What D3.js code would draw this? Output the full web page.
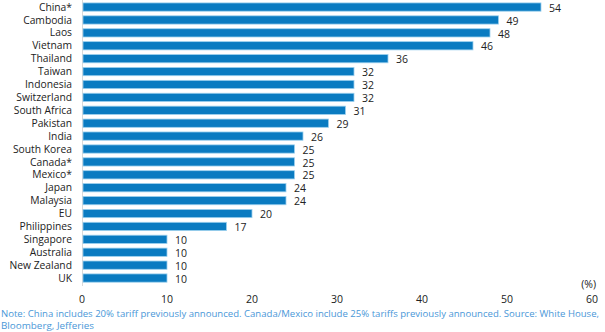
<!DOCTYPE html>
<html>
<head>
<meta charset="utf-8">
<script src="https://cdn.jsdelivr.net/npm/d3@7"></script>
<style>
body { margin: 0; background: #fff; }
svg text { font-family: "Open Sans", "Noto Sans", sans-serif; }
</style>
</head>
<body>
<svg id="chart"></svg>
<script>
var countries = ["China*", "Cambodia", "Laos", "Vietnam", "Thailand", "Taiwan", "Indonesia",
    "Switzerland", "South Africa", "Pakistan", "India", "South Korea", "Canada*", "Mexico*",
    "Japan", "Malaysia", "EU", "Philippines", "Singapore", "Australia", "New Zealand", "UK"];
var tariffs = [54, 49, 48, 46, 36, 32, 32, 32, 31, 29, 26, 25, 25, 25, 24, 24, 20, 17, 10, 10, 10, 10];
var xTicks = [0, 10, 20, 30, 40, 50, 60];
var note = ["Note: China includes 20% tariff previously announced. Canada/Mexico include 25% tariffs previously announced. Source: White House,",
    "Bloomberg, Jefferies"];

var width = 605, height = 332;
var data = countries.map((c, i) => ({name: c, value: tariffs[i]}));

var svg = d3.select("#chart")
    .attr("width", width)
    .attr("height", height);

var x = d3.scaleLinear().domain([0, 60]).range([82, 592]);
var y = d3.scaleBand().domain(countries).range([0.6, 284.5]).paddingInner(0.36).paddingOuter(0.18);

// axis line
svg.append("line")
    .attr("x1", x(0) + 0.5).attr("x2", x(0) + 0.5)
    .attr("y1", 0).attr("y2", 286)
    .attr("stroke", "#d9d9d9");

svg.selectAll("rect.bar")
    .data(data)
    .enter()
    .append("rect")
        .attr("class", "bar")
        .attr("x", x(0) + 1)
        .attr("y", d => y(d.name))
        .attr("width", d => x(d.value) - x(0) - 1)
        .attr("height", y.bandwidth())
        .attr("fill", "#0a7bc1")
        .attr("stroke", "#9cd0ee")
        .attr("stroke-width", 0.8);

svg.selectAll("text.val")
    .data(data)
    .enter()
    .append("text")
        .attr("class", "val")
        .attr("x", d => x(d.value) + 8)
        .attr("y", d => y(d.name) + y.bandwidth() / 2 + 1)
        .attr("dy", "0.35em")
        .attr("font-size", "10.5px")
        .attr("fill", "#222")
        .text(d => d.value);

svg.selectAll("text.cat")
    .data(data)
    .enter()
    .append("text")
        .attr("class", "cat")
        .attr("x", 72)
        .attr("y", d => y(d.name) + y.bandwidth() / 2)
        .attr("dy", "0.35em")
        .attr("text-anchor", "end")
        .attr("font-size", "10.3px")
        .attr("fill", "#222")
        .text(d => d.name);

svg.selectAll("text.tick")
    .data(xTicks)
    .enter()
    .append("text")
        .attr("class", "tick")
        .attr("x", d => x(d))
        .attr("y", 299)
        .attr("dy", "0.35em")
        .attr("text-anchor", "middle")
        .attr("font-size", "10.5px")
        .attr("fill", "#222")
        .text(d => d);

svg.append("text")
    .attr("x", 596)
    .attr("y", 284)
    .attr("dy", "0.35em")
    .attr("text-anchor", "end")
    .attr("font-size", "10.5px")
    .attr("fill", "#222")
    .text("(%)");

svg.selectAll("text.note")
    .data(note)
    .enter()
    .append("text")
        .attr("class", "note")
        .attr("x", 1)
        .attr("y", (d, i) => 313.5 + i * 12.5)
        .attr("dy", "0.35em")
        .attr("font-size", "9.5px")
        .attr("fill", "#4a97d8")
        .attr("textLength", (d, i) => i === 0 ? 598 : 93)
        .attr("lengthAdjust", "spacingAndGlyphs")
        .text(d => d);
</script>
</body>
</html>
